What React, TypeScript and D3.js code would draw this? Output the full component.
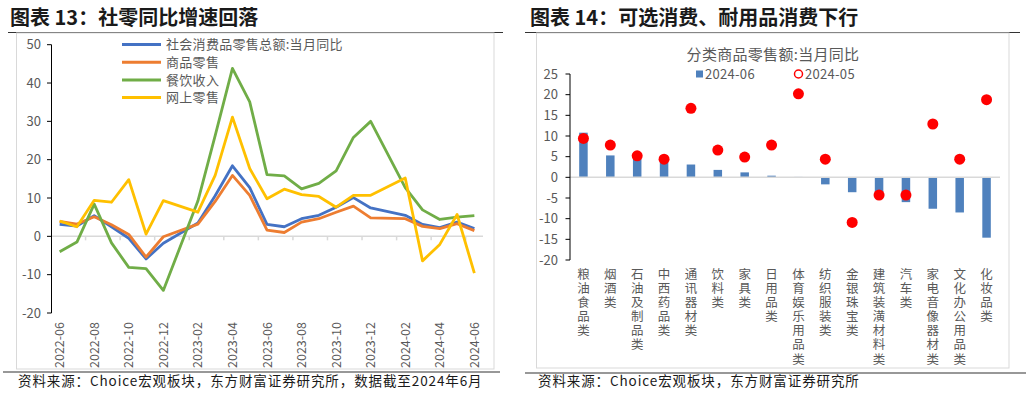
import React from 'react';
import * as d3 from 'd3';

// ---- left chart data (2023-01 and 2024-01 are not published) ----
const months = [
  '2022-06', '2022-07', '2022-08', '2022-09', '2022-10', '2022-11', '2022-12',
  '2023-01', '2023-02', '2023-03', '2023-04', '2023-05', '2023-06', '2023-07',
  '2023-08', '2023-09', '2023-10', '2023-11', '2023-12', '2024-01', '2024-02',
  '2024-03', '2024-04', '2024-05', '2024-06',
];
const totalRetail = [3.1, 2.7, 5.4, 2.5, -0.5, -5.9, -1.8, null, 3.5, 10.6, 18.4, 12.7, 3.1, 2.5, 4.6, 5.5, 7.6, 10.1, 7.4, null, 5.5, 3.1, 2.3, 3.7, 2.0];
const goodsRetail = [3.9, 3.2, 5.1, 3.0, 0.5, -5.4, -0.1, null, 3.2, 9.1, 15.9, 10.7, 1.6, 1.0, 3.7, 4.6, 6.3, 7.9, 4.8, null, 4.6, 2.6, 2.0, 3.3, 1.5];
const catering = [-4.0, -1.5, 8.4, -1.7, -8.1, -8.4, -14.1, null, 9.2, 26.3, 43.8, 35.1, 16.1, 15.8, 12.4, 13.8, 17.1, 25.8, 30.0, null, 12.7, 6.9, 4.4, 5.0, 5.4];
const online = [4.0, 2.5, 9.4, 8.9, 14.8, 0.6, 9.3, null, 6.3, 15.9, 31.1, 17.7, 9.8, 12.3, 10.9, 10.4, 7.6, 10.7, 10.7, null, 15.2, -6.4, -2.1, 5.7, -9.6];
const leftTicks = [50, 40, 30, 20, 10, 0, -10, -20];

const leftSeries = [
  { name: '社会消费品零售总额:当月同比', values: totalRetail, color: '#4472C4' },
  { name: '商品零售', values: goodsRetail, color: '#ED7D31' },
  { name: '餐饮收入', values: catering, color: '#70AD47' },
  { name: '网上零售', values: online, color: '#FFC000' },
];

// ---- right chart data ----
const categories = [
  '粮油食品类', '烟酒类', '石油及制品类', '中西药品类', '通讯器材类', '饮料类', '家具类', '日用品类',
  '体育娱乐用品类', '纺织服装类', '金银珠宝类', '建筑装潢材料类', '汽车类', '家电音像器材类', '文化办公用品类', '化妆品类',
];
const june2024 = [10.8, 5.3, 4.5, 3.8, 3.1, 1.8, 1.2, 0.4, 0.1, -1.7, -3.6, -5.0, -6.0, -7.6, -8.5, -14.6];
const may2024 = [9.4, 7.8, 5.2, 4.4, 16.7, 6.6, 4.9, 7.8, 20.2, 4.4, -10.9, -4.3, -4.3, 12.9, 4.4, 18.8];
const rightTicks = [25, 20, 15, 10, 5, 0, -5, -10, -15, -20];

const grey = '#595959';
const cjk = '"Noto Sans CJK SC", "Noto Sans", sans-serif';

const LeftChart = () => {
  const x = d3.scaleBand<string>().domain(months).range([51, 483]);
  const y = d3.scaleLinear().domain([-20, 50]).range([313, 44.7]);
  const cx = (m: string) => (x(m) || 0) + x.bandwidth() / 2;

  const line = d3.line<{ m: string; v: number }>()
    .x(d => cx(d.m))
    .y(d => y(d.v));

  // tick marks every two categories on the zero line
  const tickXs = months.filter((_, i) => i % 2 === 0 && i > 0).map(m => x(m) || 0);

  return (
    <g>
      {/* zero line */}
      <line x1={51} x2={483} y1={y(0)} y2={y(0)} stroke="#d9d9d9" strokeWidth={1.5} />
      {tickXs.map((t, i) => (
        <line key={i} x1={t} x2={t} y1={y(0)} y2={y(0) + 4} stroke="#d9d9d9" strokeWidth={1.5} />
      ))}
      {/* y axis */}
      <line x1={51.5} x2={51.5} y1={y(50)} y2={y(-20)} stroke="#000" strokeWidth={1} />
      {leftTicks.map(t => (
        <g key={t}>
          <line x1={47} x2={51.5} y1={y(t)} y2={y(t)} stroke="#000" />
          <text x={41} y={y(t)} dy="0.35em" textAnchor="end" fontSize={13} fill={grey} fontFamily={cjk}>{t}</text>
        </g>
      ))}
      {/* x labels */}
      {months.filter((_, i) => i % 2 === 0).map(m => (
        <text key={m} transform={`translate(${cx(m) + 4.5},322) rotate(-90)`} textAnchor="end"
          fontSize={12.5} fill={grey} fontFamily={cjk}>{m}</text>
      ))}
      {/* series */}
      {leftSeries.map(s => {
        const pts = s.values
          .map((v, i) => ({ m: months[i], v }))
          .filter(d => d.v !== null) as { m: string; v: number }[];
        return <path key={s.name} d={line(pts) || ''} fill="none" stroke={s.color} strokeWidth={2.8} strokeLinejoin="round" />;
      })}
      {/* legend */}
      {leftSeries.map((s, i) => (
        <g key={s.name} transform={`translate(0,${44.5 + i * 17.7})`}>
          <line x1={122} x2={161} y1={0} y2={0} stroke={s.color} strokeWidth={3} />
          <text x={166} y={0} dy="0.36em" fontSize={13} letterSpacing={0.3} fill={grey} fontFamily={cjk}>{s.name}</text>
        </g>
      ))}
    </g>
  );
};

const RightChart = () => {
  const x = d3.scaleBand<string>().domain(categories).range([570, 1000]);
  const y = d3.scaleLinear().domain([-20, 25]).range([260, 74]);
  const cx = (c: string) => (x(c) || 0) + x.bandwidth() / 2;
  const barW = 8.5;

  return (
    <g>
      <text x={773} y={54.5} dy="0.35em" textAnchor="middle" fontSize={15} letterSpacing={0.3} fill={grey} fontFamily={cjk}>分类商品零售额:当月同比</text>
      <rect x={696} y={70.5} width={7} height={7} fill="#4F81BD" />
      <text x={705} y={74} dy="0.36em" fontSize={13} letterSpacing={0.3} fill={grey} fontFamily={cjk}>2024-06</text>
      <circle cx={798.5} cy={74} r={4} fill="none" stroke="#FF0000" strokeWidth={1.5} />
      <text x={805} y={74} dy="0.36em" fontSize={13} letterSpacing={0.3} fill={grey} fontFamily={cjk}>2024-05</text>

      {/* bars */}
      {categories.map((c, i) => (
        <rect key={c} x={cx(c) - barW / 2} y={Math.min(y(june2024[i]), y(0))} width={barW}
          height={Math.abs(y(june2024[i]) - y(0))} fill="#4F81BD" />
      ))}
      {/* zero line */}
      <line x1={570} x2={1000} y1={y(0)} y2={y(0)} stroke="#d9d9d9" strokeWidth={1.5} />
      {/* dots */}
      {categories.map((c, i) => (
        <circle key={c} cx={cx(c)} cy={y(may2024[i])} r={5.5} fill="#FF0000" />
      ))}
      {/* y axis */}
      <line x1={570} x2={570} y1={y(25)} y2={y(-20)} stroke="#000" strokeWidth={1} />
      {rightTicks.map(t => (
        <g key={t}>
          <line x1={565.5} x2={570} y1={y(t)} y2={y(t)} stroke="#000" />
          <text x={558} y={y(t)} dy="0.35em" textAnchor="end" fontSize={13} fill={grey} fontFamily={cjk}>{t}</text>
        </g>
      ))}
      {/* vertical category labels */}
      {categories.map(c => (
        <text key={c} x={cx(c)} y={268} fontSize={12.5} fill={grey} fontFamily={cjk}
          letterSpacing={1.6} style={{ writingMode: 'vertical-rl', textOrientation: 'upright' }}>{c}</text>
      ))}
    </g>
  );
};

export default function App() {
  return (
    <svg width={1026} height={396} style={{ position: 'absolute', left: 0, top: 0, background: '#fff' }}>
      <rect width={1026} height={396} fill="#fff" />
      {/* titles */}
      <text x={10} y={25} fontSize={20} fontWeight="bold" fill="#1a1a1a" fontFamily={cjk}>图表 13：社零同比增速回落</text>
      <text x={530} y={25} fontSize={20} fontWeight="bold" fill="#1a1a1a" fontFamily={cjk}>图表 14：可选消费、耐用品消费下行</text>
      <line x1={8} x2={503} y1={32.5} y2={32.5} stroke="#333" strokeWidth={1.2} />
      <line x1={525} x2={1020} y1={32.5} y2={32.5} stroke="#333" strokeWidth={1.2} />
      {/* panel frames */}
      <rect x={16.5} y={33} width={477.5} height={336} fill="none" stroke="#d9d9d9" />
      <rect x={536.5} y={33} width={472.5} height={335} fill="none" stroke="#d9d9d9" />
      <LeftChart />
      <RightChart />
      {/* bottom rules and sources */}
      <line x1={3} x2={500} y1={372} y2={372} stroke="#333" strokeWidth={1.2} />
      <line x1={525} x2={1026} y1={373} y2={373} stroke="#333" strokeWidth={1.2} />
      <text x={18} y={386} fontSize={13.5} letterSpacing={0.9} fill="#1a1a1a" fontFamily={cjk}>资料来源：Choice宏观板块，东方财富证券研究所，数据截至2024年6月</text>
      <text x={538} y={386} fontSize={13.5} letterSpacing={0.9} fill="#1a1a1a" fontFamily={cjk}>资料来源：Choice宏观板块，东方财富证券研究所</text>
    </svg>
  );
}
